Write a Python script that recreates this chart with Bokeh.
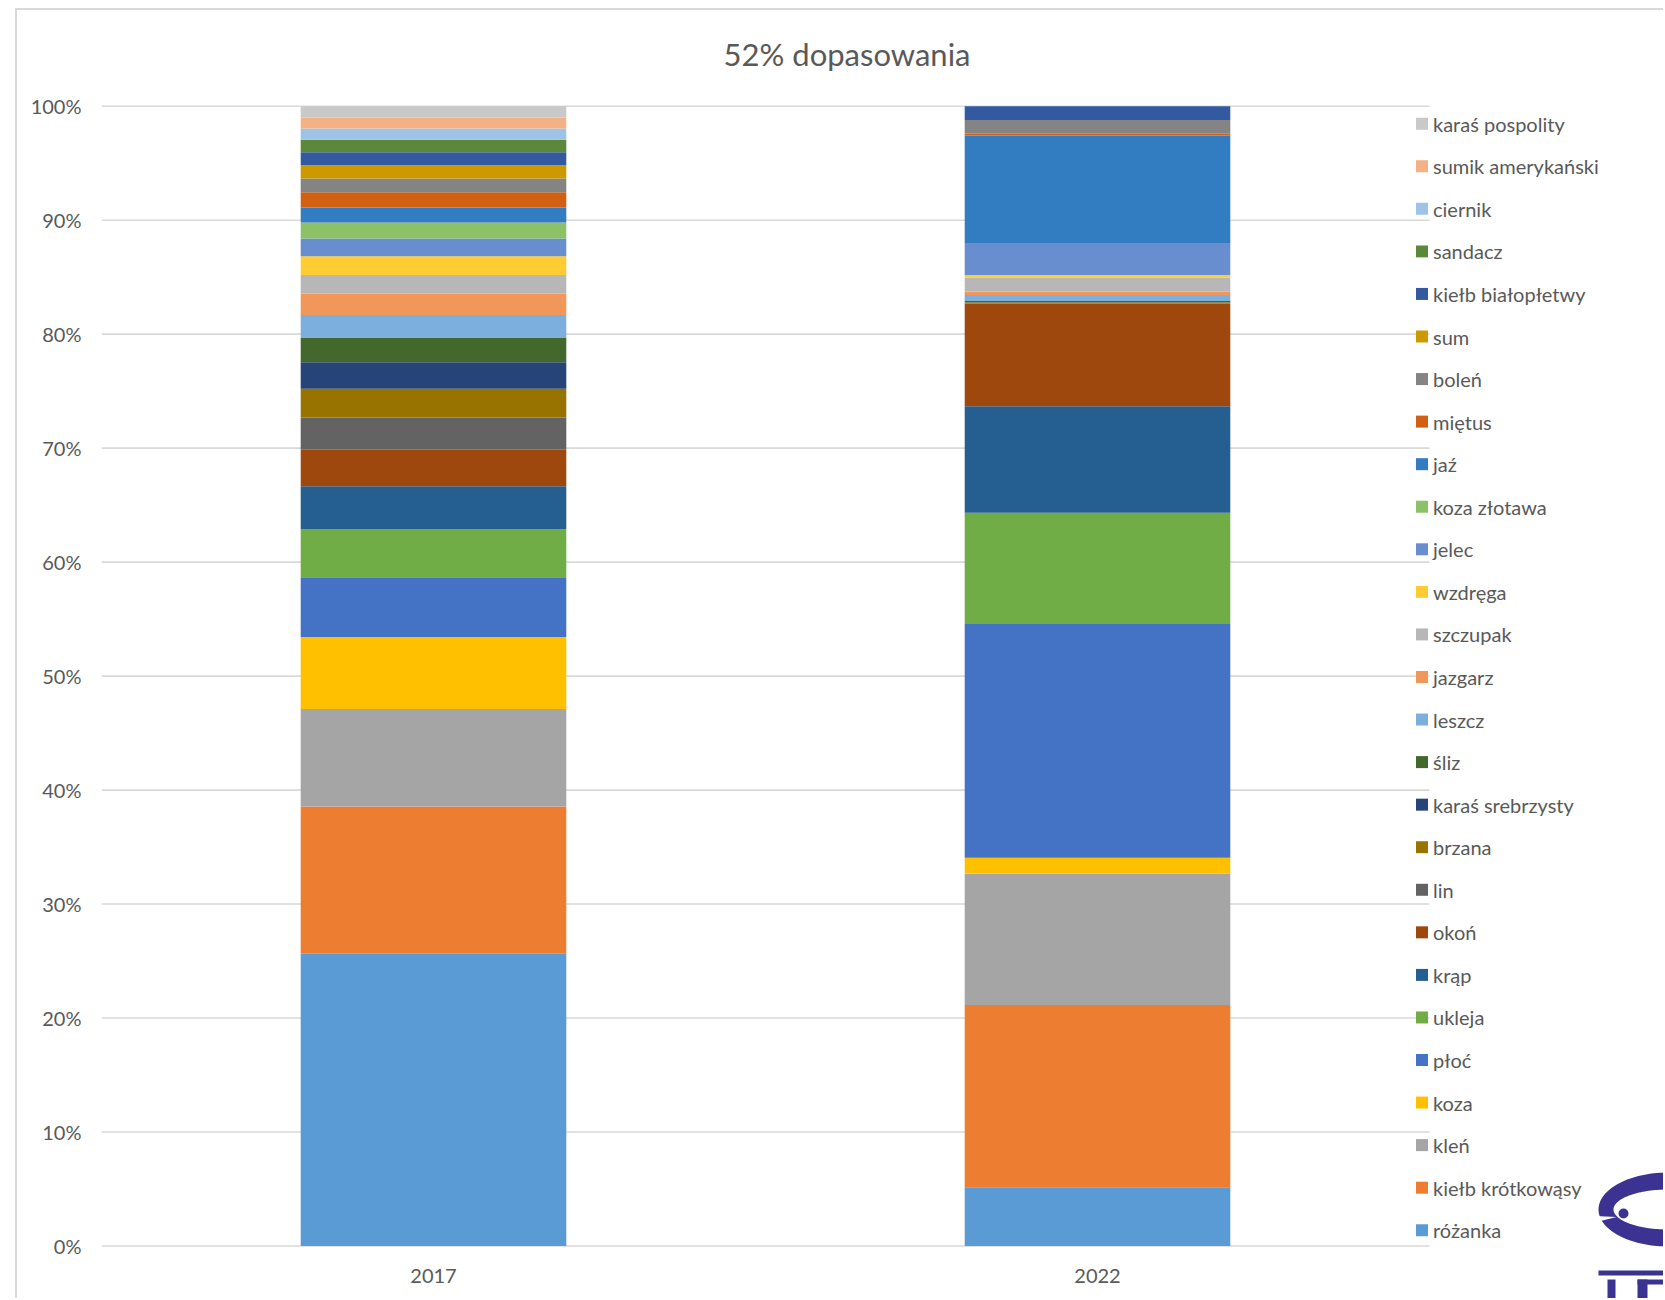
import numpy as np
from bokeh.plotting import figure
from bokeh.models import Range1d, FixedTicker, ColumnDataSource
from bokeh.core.properties import value
from bokeh.embed import file_html
from bokeh.resources import INLINE

# ---- chart content -------------------------------------------------------
title_text = "52% dopasowania"
years = ["2017", "2022"]

# species, stacked bottom -> top
species = [
    "różanka", "kiełb krótkowąsy", "kleń", "koza", "płoć", "ukleja", "krąp",
    "okoń", "lin", "brzana", "karaś srebrzysty", "śliz", "leszcz", "jazgarz",
    "szczupak", "wzdręga", "jelec", "koza złotawa", "jaź", "miętus", "boleń",
    "sum", "kiełb białopłetwy", "sandacz", "ciernik", "sumik amerykański",
    "karaś pospolity",
]

# percentage share of each species
share_2017 = [25.65, 12.92, 8.54, 6.33, 5.23, 4.23, 3.75, 3.20, 2.84, 2.51,
              2.34, 2.16, 1.99, 1.85, 1.66, 1.63, 1.56, 1.40, 1.32, 1.34,
              1.20, 1.17, 1.14, 1.09, 0.99, 0.96, 1.00]
share_2022 = [5.15, 15.99, 11.53, 1.40, 20.50, 9.77, 9.34, 9.00, 0.00, 0.10,
              0.00, 0.12, 0.53, 0.32, 1.21, 0.23, 2.75, 0.00, 9.50, 0.15,
              1.20, 0.00, 1.21, 0.00, 0.00, 0.00, 0.00]

colors = [
    "#5B9BD5", "#ED7D31", "#A5A5A5", "#FFC000", "#4472C4", "#70AD47", "#255E91",
    "#9E480E", "#636363", "#997300", "#264478", "#43682B", "#7CAFDD", "#F1975A",
    "#B7B7B7", "#FFCD33", "#698ED0", "#8CC168", "#327DC2", "#D26012", "#848484",
    "#CC9A00", "#335AA1", "#5A8A39", "#9DC3E6", "#F4B183", "#C9C9C9",
]

y_ticks = [0, 10, 20, 30, 40, 50, 60, 70, 80, 90, 100]
y_tick_labels = ["0%", "10%", "20%", "30%", "40%", "50%", "60%", "70%",
                 "80%", "90%", "100%"]

# ---- page geometry (pixels) ---------------------------------------------
PAGE_W, PAGE_H = 1665, 1300
OFF_X, OFF_Y = 17, 10            # canvas origin after margin + border
FRAME_L = 101                    # frame left edge on page
PLOT_R = 1429                    # right end of the plotting area
TOP_100 = 105.7                  # page y of the 100 % line
BOT_0 = 1245.5                   # page y of the 0 % line
PX_PER_PCT = (BOT_0 - TOP_100) / 100.0
PX_PER_CAT = (PLOT_R - FRAME_L) / len(years)

TEXT = "#595959"
GRID = "#D9D9D9"
FONT = "Lato"


def dx(px):
    return (px - FRAME_L) / PX_PER_CAT


def dy(py):
    return (BOT_0 - py) / PX_PER_PCT


p = figure(
    width=PAGE_W - OFF_X, height=PAGE_H - OFF_Y,
    x_range=Range1d(dx(FRAME_L), dx(PAGE_W)),
    y_range=Range1d(dy(PAGE_H), dy(OFF_Y)),
    x_axis_location=None, y_axis_location="left",
    output_backend="svg", toolbar_location=None,
    min_border_left=FRAME_L - OFF_X, min_border_right=0,
    min_border_top=0, min_border_bottom=0,
    background_fill_color="white", border_fill_color="white",
    outline_line_color=None, margin=(8, 0, 0, 15),
)
p.styles = {"border-left": "2px solid #D9D9D9", "border-top": "2px solid #D9D9D9"}
p.xgrid.visible = False
p.ygrid.visible = False

yax = p.yaxis[0]
yax.ticker = FixedTicker(ticks=y_ticks)
yax.major_label_overrides = {t: lab for t, lab in zip(y_ticks, y_tick_labels)}
yax.axis_line_color = None
yax.major_tick_line_color = None
yax.minor_tick_line_color = None
yax.major_label_standoff = 14
yax.major_label_text_font = FONT
yax.major_label_text_font_size = "20px"
yax.major_label_text_color = TEXT

# horizontal gridlines across the plotting area
p.segment(x0=0, x1=len(years), y0=y_ticks, y1=y_ticks,
          line_color=GRID, line_width=1.6)

# stacked bars
xs = [i + 0.5 for i in range(len(years))]
data = {"x": xs}
for name, a, b in zip(species, share_2017, share_2022):
    data[name] = [a, b]
src = ColumnDataSource(data)
p.vbar_stack(species, x="x", width=0.4, color=colors, line_color=None,
             source=src)

# category labels under the bars
p.text(x=xs, y=[dy(1275)] * len(years), text=years,
       text_font=value(FONT), text_font_size="20px", text_color=TEXT,
       text_align="center", text_baseline="middle")

# title
p.text(x=[dx(846.5)], y=[dy(53)], text=[title_text],
       text_font=value(FONT), text_font_size="31px", text_color=TEXT,
       text_align="center", text_baseline="middle")

# legend, top entry = last species
n = len(species)
leg_y = [dy(123.2 + (n - 1 - i) * 42.56) for i in range(n)]
p.scatter(x=[dx(1421.5)] * n, y=leg_y, marker="square", size=12,
          color=colors, line_color=None)
p.text(x=[dx(1432.5)] * n, y=leg_y, text=species,
       text_font=value(FONT), text_font_size="20px", text_color=TEXT,
       text_align="left", text_baseline="middle")

# institute emblem in the lower right corner
LOGO = "#3B3291"
t = np.linspace(0, 2 * np.pi, 160)
cx, cy = 1668.0, 1209.0
ox = cx + 70 * np.cos(t); oy = cy + 37 * np.sin(t)
ix = cx + 55 * np.cos(t[::-1]); iy = cy + 20 * np.sin(t[::-1])
p.patch(x=dx(np.concatenate([ox, ix])), y=dy(np.concatenate([oy, iy])),
        color=LOGO, line_color=None)
p.patch(x=dx(np.array([1594, 1594, 1616])), y=dy(np.array([1215.5, 1222.0, 1216.5])),
        color="white", line_color=None)
p.scatter(x=[dx(1623)], y=[dy(1213)], marker="circle", size=10,
          color=LOGO, line_color=None)
bl = np.array([1598, 1607, 1637, 1637])
br = np.array([1665, 1615, 1647, 1665])
bt = np.array([1270, 1279, 1279, 1279])
bb = np.array([1275, 1300, 1300, 1284])
p.quad(left=dx(bl), right=dx(br), top=dy(bt), bottom=dy(bb),
       color=LOGO, line_color=None)

open("out.html", "w").write(file_html(p, INLINE))
